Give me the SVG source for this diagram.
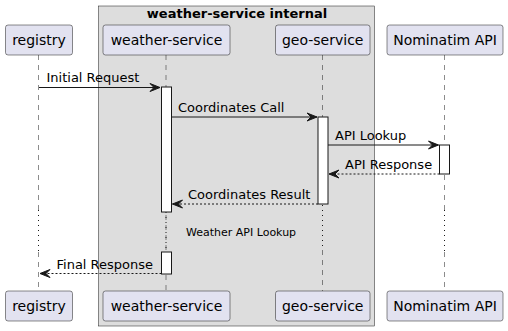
<svg xmlns="http://www.w3.org/2000/svg" width="508" height="331" viewBox="0 0 508 331">
<style>
.part rect{fill:#E2E2F0;stroke:#181818;stroke-width:0.5}
.pt{font-family:"DejaVu Sans",sans-serif;font-size:14px;fill:#000;text-anchor:middle}
.life{stroke:#181818;stroke-width:0.5;stroke-dasharray:5,5;fill:none}
.delay{stroke:#181818;stroke-width:1;stroke-dasharray:1,4;fill:none}
.act{fill:#FFFFFF;stroke:#181818;stroke-width:1}
.msg{stroke:#181818;stroke-width:1;fill:none}
.ret{stroke:#181818;stroke-width:1;stroke-dasharray:2,2;fill:none}
.ah{fill:#181818;stroke:#181818;stroke-width:1}
.ml{font-family:"DejaVu Sans",sans-serif;font-size:13px;fill:#000}
</style>
<g id="box">
<rect x="98.5" y="6" width="276" height="320" fill="#DDDDDD" stroke="#181818" stroke-width="0.5"/>
<text x="237" y="17.5" font-family="DejaVu Sans, sans-serif" font-size="13" font-weight="bold" text-anchor="middle">weather-service internal</text>
</g>
<g id="lifelines">
<path class="life" d="M38.5 55 V210 M38.5 252 V291"/>
<path class="delay" d="M38.5 210 V252"/>
<path class="life" d="M166 55 V291"/>
<path class="delay" d="M166 212 V252"/>
<path class="life" d="M322.5 55 V205 M322.5 250 V291"/>
<path class="delay" d="M322.5 205 V250"/>
<path class="life" d="M444.5 55 V210 M444.5 252 V291"/>
<path class="delay" d="M444.5 210 V252"/>
</g>
<g id="activations">
<rect class="act" x="161.5" y="87" width="10" height="125"/>
<rect class="act" x="161.5" y="252" width="10" height="22"/>
<rect class="act" x="318" y="117" width="10" height="87"/>
<rect class="act" x="439.5" y="145" width="10" height="29"/>
</g>
<g id="registry" class="part">
<rect x="5.5" y="25" width="67" height="30" rx="2.5"/>
<text class="pt" x="39" y="45">registry</text>
<rect x="5.5" y="291" width="67" height="30" rx="2.5"/>
<text class="pt" x="39" y="311">registry</text>
</g>
<g id="weather-service" class="part">
<rect x="103" y="25" width="127" height="30" rx="2.5"/>
<text class="pt" x="166.5" y="45">weather-service</text>
<rect x="103" y="291" width="127" height="30" rx="2.5"/>
<text class="pt" x="166.5" y="311">weather-service</text>
</g>
<g id="geo-service" class="part">
<rect x="275.5" y="25" width="94.5" height="30" rx="2.5"/>
<text class="pt" x="322.7" y="45">geo-service</text>
<rect x="275.5" y="291" width="94.5" height="30" rx="2.5"/>
<text class="pt" x="322.7" y="311">geo-service</text>
</g>
<g id="nominatim" class="part">
<rect x="387" y="25" width="116" height="30" rx="2.5"/>
<text class="pt" x="445" y="45">Nominatim API</text>
<rect x="387" y="291" width="116" height="30" rx="2.5"/>
<text class="pt" x="445" y="311">Nominatim API</text>
</g>
<g id="connectors">
<line class="msg" x1="39" y1="87.5" x2="160" y2="87.5"/>
<polygon class="ah" points="160,87.5 150,83.5 154,87.5 150,91.5"/>
<text class="ml" x="46.5" y="82">Initial Request</text>

<line class="msg" x1="171.5" y1="117" x2="317" y2="117"/>
<polygon class="ah" points="317,117 307,113 311,117 307,121"/>
<text class="ml" x="178" y="112">Coordinates Call</text>

<line class="msg" x1="328" y1="145" x2="438.5" y2="145"/>
<polygon class="ah" points="438.5,145 428.5,141 432.5,145 428.5,149"/>
<text class="ml" x="335" y="140">API Lookup</text>

<line class="ret" x1="439.5" y1="174" x2="329" y2="174"/>
<polygon class="ah" points="329,174 339,170 335,174 339,178"/>
<text class="ml" x="345" y="169">API Response</text>

<line class="ret" x1="318" y1="204" x2="172.5" y2="204"/>
<polygon class="ah" points="172.5,204 182.5,200 178.5,204 182.5,208"/>
<text class="ml" x="188" y="199">Coordinates Result</text>

<text x="186" y="235.5" font-family="DejaVu Sans, sans-serif" font-size="11">Weather API Lookup</text>

<line class="ret" x1="161.5" y1="273.5" x2="40" y2="273.5"/>
<polygon class="ah" points="40,273.5 50,269.5 46,273.5 50,277.5"/>
<text class="ml" x="56.5" y="268.5">Final Response</text>
</g>
</svg>
